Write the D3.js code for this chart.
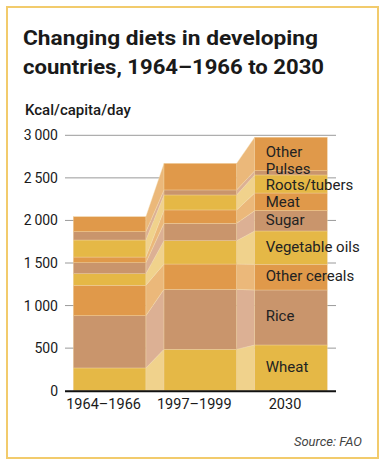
<!DOCTYPE html>
<html>
<head>
<meta charset="utf-8">
<script src="https://cdn.jsdelivr.net/npm/d3@7/dist/d3.min.js"></script>
<style>
  html, body { margin: 0; padding: 0; background: #fff; }
  svg { display: block; font-family: Roboto, "Noto Sans", sans-serif; }
</style>
</head>
<body>
<div id="chart"></div>
<script>
(function () {
  'use strict';

  // periods on the x axis
  const PERIODS = ["1964–1966", "1997–1999", "2030"];

  // kcal/capita/day per food group, one value per period
  const WHEAT         = [267, 486, 537];
  const RICE          = [614, 705, 646];
  const OTHER_CEREALS = [357, 297, 302];
  const VEG_OILS      = [136, 274, 391];
  const SUGAR         = [130, 204, 239];
  const MEAT          = [66, 157, 207];
  const ROOTS         = [200, 176, 212];
  const PULSES        = [98, 59, 50];
  const OTHER         = [176, 312, 393];

  const FOODS = ["Wheat", "Rice", "Other cereals", "Vegetable oils", "Sugar",
                 "Meat", "Roots/tubers", "Pulses", "Other"];
  const SERIES = [WHEAT, RICE, OTHER_CEREALS, VEG_OILS, SUGAR, MEAT, ROOTS, PULSES, OTHER];

  const Y_TICKS = [0, 500, 1000, 1500, 2000, 2500, 3000];
  const Y_TICK_LABELS = ["0", "500", "1\u2009000", "1\u2009500", "2\u2009000", "2\u2009500", "3\u2009000"];

  const W = 385, H = 468;

  // yellow / tan / orange cycle, with lighter shades for the joins
  const BAR_COLORS  = ['#e5b846', '#c9956c', '#e0994a'];
  const JOIN_COLORS = ['#f0d28c', '#dcb094', '#ebb87a'];

  const rows = PERIODS.map((p, i) => {
    const r = { period: p };
    FOODS.forEach((f, j) => { r[f] = SERIES[j][i]; });
    return r;
  });
  const stacked = d3.stack().keys(FOODS)(rows);

  const svg = d3.select('#chart').append('svg')
    .attr('width', W).attr('height', H);

  // frame
  svg.append('rect')
    .attr('x', 7).attr('y', 7).attr('width', 371).attr('height', 451)
    .attr('fill', '#fff').attr('stroke', '#f2cb6c').attr('stroke-width', 2);

  // title
  const title = svg.append('text')
    .attr('font-weight', 700).attr('font-size', 21).attr('fill', '#1a1a1a');
  title.append('tspan').attr('x', 23).attr('y', 45)
    .attr('textLength', 295).attr('lengthAdjust', 'spacingAndGlyphs')
    .text('Changing diets in developing');
  title.append('tspan').attr('x', 23).attr('y', 74)
    .attr('textLength', 301).attr('lengthAdjust', 'spacingAndGlyphs')
    .text('countries, 1964–1966 to 2030');

  svg.append('text')
    .attr('x', 25).attr('y', 115)
    .attr('font-size', 15).attr('font-weight', 500).attr('fill', '#1a1a1a')
    .text('Kcal/capita/day');

  const x = d3.scaleBand().domain(PERIODS).range([73.3, 327.3]).paddingInner(0.2).paddingOuter(0);
  const y = d3.scaleLinear().domain([0, 3000]).range([390.7, 135.3]);

  const x0 = 65, x1 = 336;

  // gridlines
  svg.append('g').selectAll('line')
    .data(Y_TICKS.filter(d => d > 0))
    .enter().append('line')
    .attr('x1', x0).attr('x2', x1)
    .attr('y1', d => y(d)).attr('y2', d => y(d))
    .attr('stroke', '#9a9a9a').attr('stroke-width', 1);

  // tick labels
  svg.append('g').selectAll('text')
    .data(Y_TICKS)
    .enter().append('text')
    .attr('x', 58).attr('y', d => y(d))
    .attr('dy', '0.36em')
    .attr('text-anchor', 'end')
    .attr('font-size', 14).attr('fill', '#1a1a1a')
    .text((d, i) => Y_TICK_LABELS[i]);

  // joins between bars
  const joins = svg.append('g');
  stacked.forEach((s, j) => {
    for (let i = 0; i < PERIODS.length - 1; i++) {
      const a = s[i], b = s[i + 1];
      const xa = x(PERIODS[i]) + x.bandwidth();
      const xb = x(PERIODS[i + 1]);
      joins.append('path')
        .attr('d', d3.line()([[xa, y(a[0])], [xa, y(a[1])], [xb, y(b[1])], [xb, y(b[0])]]) + 'Z')
        .attr('fill', JOIN_COLORS[j % 3])
        .attr('stroke', '#f3dcae').attr('stroke-width', 0.4);
    }
  });

  // bars
  const bars = svg.append('g');
  stacked.forEach((s, j) => {
    bars.selectAll(null)
      .data(s)
      .enter().append('rect')
      .attr('x', d => x(d.data.period))
      .attr('width', x.bandwidth())
      .attr('y', d => y(d[1]))
      .attr('height', d => y(d[0]) - y(d[1]))
      .attr('fill', BAR_COLORS[j % 3])
      .attr('stroke', '#f0d3a0').attr('stroke-width', 0.4);
  });

  // baseline
  svg.append('line')
    .attr('x1', x0).attr('x2', x1)
    .attr('y1', y(0) + 0.5).attr('y2', y(0) + 0.5)
    .attr('stroke', '#111').attr('stroke-width', 2);

  // period labels
  svg.append('g').selectAll('text')
    .data(PERIODS)
    .enter().append('text')
    .attr('x', d => x(d) + x.bandwidth() / 2 - 6)
    .attr('y', 409)
    .attr('text-anchor', 'middle')
    .attr('font-size', 14.5).attr('fill', '#1a1a1a')
    .text(d => d);

  // food labels beside the last bar, nudged apart where bands are thin
  const last = PERIODS.length - 1;
  const labelY = stacked.map(s => y((s[last][0] + s[last][1]) / 2) + 4);
  const GAP = 16.5;
  for (let iter = 0; iter < 50; iter++) {
    for (let k = 0; k < labelY.length - 1; k++) {
      const d = labelY[k] - labelY[k + 1]; // lower label minus upper one
      if (d < GAP) {
        const push = (GAP - d) / 2;
        labelY[k] += push;
        labelY[k + 1] -= push;
      }
    }
  }
  svg.append('g').selectAll('text')
    .data(stacked)
    .enter().append('text')
    .attr('x', x(PERIODS[last]) + 11)
    .attr('y', (d, i) => labelY[i])
    .attr('font-size', 15).attr('fill', '#222')
    .text(d => d.key);

  svg.append('text')
    .attr('x', 362).attr('y', 446)
    .attr('text-anchor', 'end')
    .attr('font-size', 13).attr('font-style', 'italic').attr('fill', '#444')
    .text('Source: FAO');
})();
</script>
</body>
</html>
